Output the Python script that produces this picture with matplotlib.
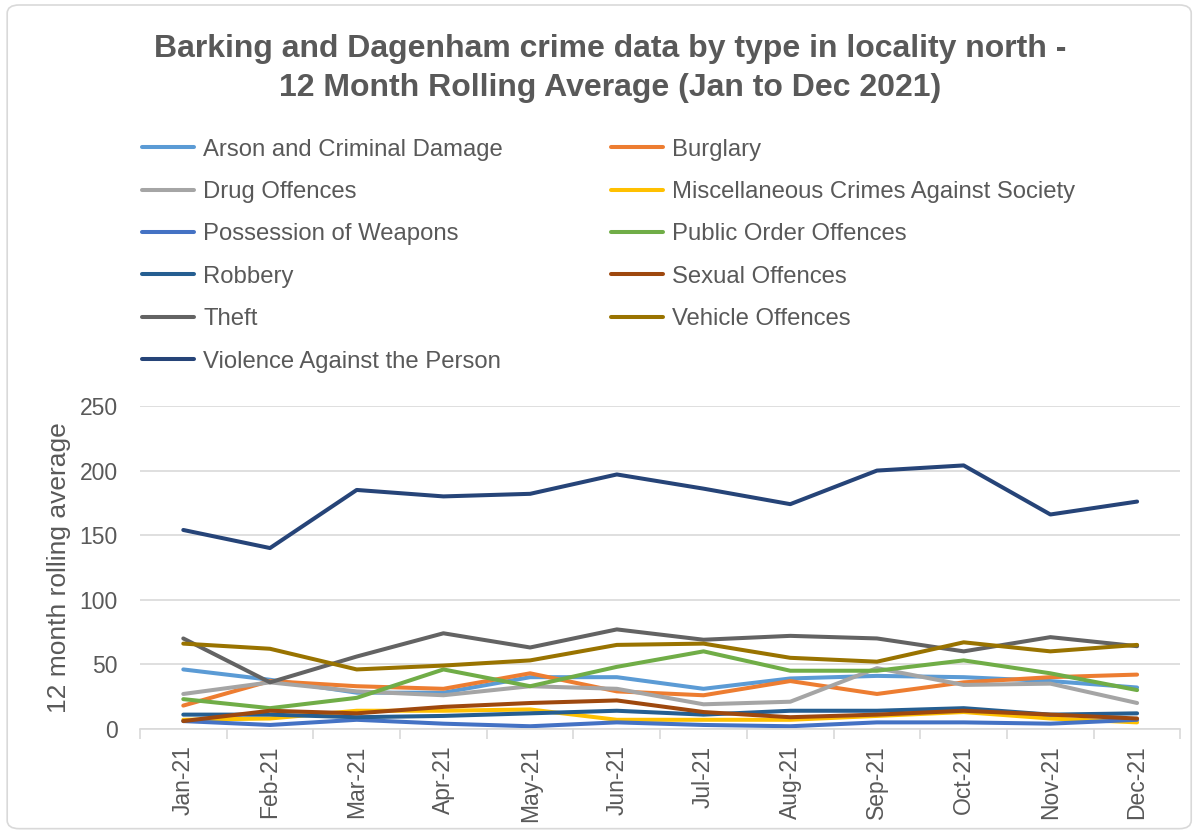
import matplotlib.pyplot as plt
from matplotlib.patches import FancyBboxPatch

plt.rcParams['font.family'] = ['Liberation Sans', 'DejaVu Sans']

### data ###
months = ['Jan-21', 'Feb-21', 'Mar-21', 'Apr-21', 'May-21', 'Jun-21',
          'Jul-21', 'Aug-21', 'Sep-21', 'Oct-21', 'Nov-21', 'Dec-21']

arson = [46, 38, 28, 28, 40, 40, 31, 39, 41, 40, 37, 32]
burglary = [18, 37, 33, 31, 43, 29, 26, 37, 27, 36, 40, 42]
drug = [27, 36, 29, 26, 33, 31, 19, 21, 47, 34, 35, 20]
misc = [7, 8, 14, 14, 15, 7, 7, 7, 10, 13, 8, 5]
weapons = [6, 3, 7, 4, 2, 5, 3, 2, 5, 5, 4, 7]
public_order = [23, 16, 24, 46, 33, 48, 60, 45, 45, 53, 43, 30]
robbery = [11, 11, 9, 10, 12, 14, 11, 14, 14, 16, 11, 12]
sexual = [6, 14, 12, 17, 20, 22, 13, 9, 11, 14, 11, 8]
theft = [70, 36, 56, 74, 63, 77, 69, 72, 70, 60, 71, 64]
vehicle = [66, 62, 46, 49, 53, 65, 66, 55, 52, 67, 60, 65]
violence = [154, 140, 185, 180, 182, 197, 186, 174, 200, 204, 166, 176]

series = [
    ('Arson and Criminal Damage', arson, '#5B9BD5'),
    ('Burglary', burglary, '#ED7D31'),
    ('Drug Offences', drug, '#A5A5A5'),
    ('Miscellaneous Crimes Against Society', misc, '#FFC000'),
    ('Possession of Weapons', weapons, '#4472C4'),
    ('Public Order Offences', public_order, '#70AD47'),
    ('Robbery', robbery, '#255E91'),
    ('Sexual Offences', sexual, '#9E480E'),
    ('Theft', theft, '#636363'),
    ('Vehicle Offences', vehicle, '#997300'),
    ('Violence Against the Person', violence, '#264478'),
]

txt = '#595959'
fig = plt.figure(figsize=(11.96, 8.32), dpi=100)
fig.patches.append(FancyBboxPatch((0.006, 0.004), 0.99, 0.99, boxstyle='round,pad=0,rounding_size=0.01',
                                  transform=fig.transFigure, fill=False, edgecolor='#D9D9D9', lw=1.2))

ax = fig.add_axes([0.117, 0.124, 0.87, 0.388])
x = list(range(len(months)))
handles = {}
for name, vals, col in series:
    h, = ax.plot(x, vals, color=col, lw=2.9, solid_capstyle='round', label=name)
    handles[name] = h

ax.set_ylim(0, 250)
ax.set_xlim(-0.5, len(months) - 0.5)
ax.set_yticks(range(0, 251, 50))
ax.set_xticks(x)
ax.set_xticklabels(months, rotation=90)
ax.set_xticks([i - 0.5 for i in range(len(months) + 1)], minor=True)
ax.tick_params(axis='x', which='major', length=0, pad=12, labelsize=16.5, labelcolor=txt)
ax.tick_params(axis='x', which='minor', length=7, color='#D9D9D9', width=1.2)
ax.tick_params(axis='y', length=0, labelsize=16.5, labelcolor=txt, pad=16)
ax.grid(axis='y', color='#D9D9D9', lw=1.2)
ax.set_axisbelow(True)
for s in ['top', 'right', 'left']:
    ax.spines[s].set_visible(False)
ax.spines['bottom'].set_color('#D9D9D9')
ax.spines['bottom'].set_linewidth(1.2)
ax.set_ylabel('12 month rolling average', fontsize=19, color=txt, labelpad=6)

fig.text(0.51, 0.918, 'Barking and Dagenham crime data by type in locality north -\n12 Month Rolling Average (Jan to Dec 2021)',
         ha='center', va='center', fontsize=23, fontweight='bold', color=txt, linespacing=1.38)

# legend filled row by row like the original
order = [0, 2, 4, 6, 8, 10, 1, 3, 5, 7, 9]
names = [series[i][0] for i in order]
leg = fig.legend([handles[n] for n in names], names, ncol=2, loc='upper left',
                 bbox_to_anchor=(0.111, 0.845), frameon=False, fontsize=17.2,
                 handlelength=2.18, handletextpad=0.38, columnspacing=4.5,
                 labelspacing=0.855, borderaxespad=0)
for t in leg.get_texts():
    t.set_color(txt)

fig.savefig('out.png', dpi=100)
